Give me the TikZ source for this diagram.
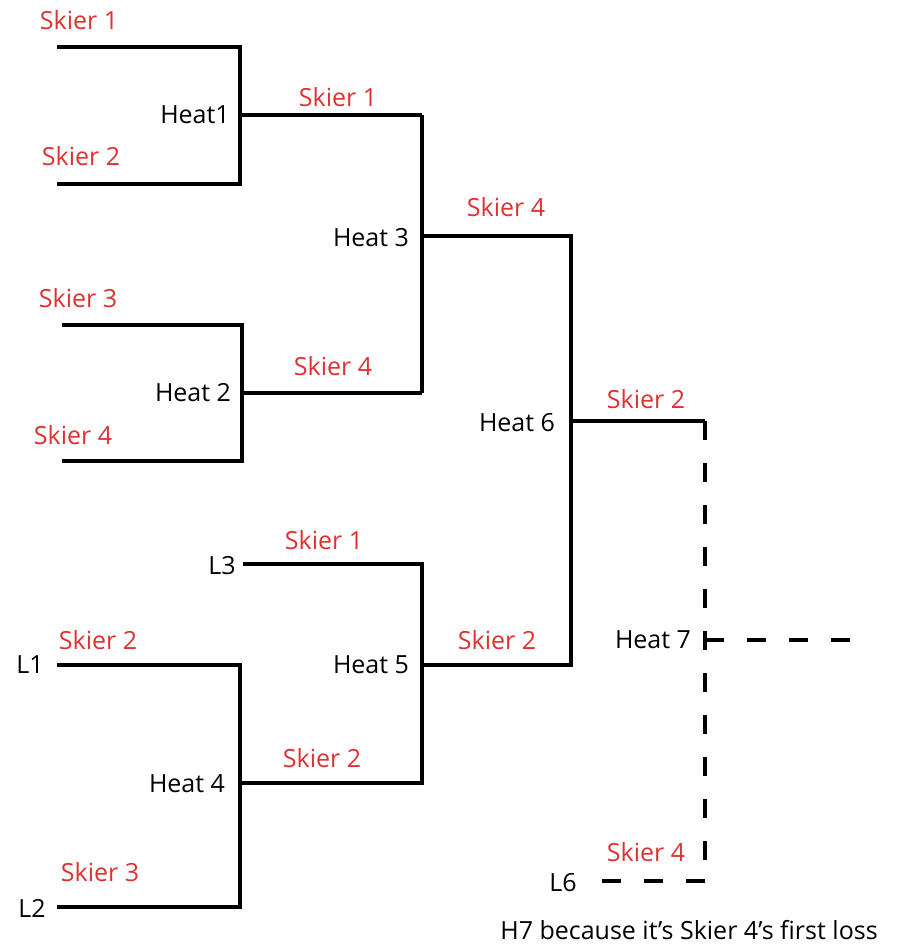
\documentclass[tikz,border=0pt]{standalone}
\usepackage{fontspec}
\setmainfont{Open Sans}
\definecolor{skred}{RGB}{222,50,50}
\begin{document}
\begin{tikzpicture}[x=1pt,y=-1pt,
  wire/.style={line width=4.5pt},
  dwire/.style={line width=4.5pt,dash pattern=on 19pt off 23pt},
  sk/.style={text=skred,font=\fontsize{25}{28}\selectfont,inner sep=0pt},
  ht/.style={text=black,font=\fontsize{25}{28}\selectfont,inner sep=0pt}]
\useasboundingbox (0,0) rectangle (901,945);
% coordinates
\coordinate (a1) at (57,47);
\coordinate (a2) at (240,47);
\coordinate (b1) at (57,184);
\coordinate (b2) at (240,184);
\coordinate (h1) at (240,115);
\coordinate (h1o) at (422,115);
\coordinate (c1) at (62,325);
\coordinate (c2) at (242,325);
\coordinate (d1) at (62,461);
\coordinate (d2) at (242,461);
\coordinate (h2) at (242,393);
\coordinate (h2o) at (422,393);
\coordinate (h3) at (422,236);
\coordinate (h3o) at (571,236);
\coordinate (h6) at (571,421);
\coordinate (h6o) at (705,421);
\coordinate (e1) at (243,564);
\coordinate (e2) at (422,564);
\coordinate (h5) at (422,665);
\coordinate (h5o) at (571,665);
\coordinate (f1) at (57,665);
\coordinate (f2) at (240,665);
\coordinate (g1) at (57,907);
\coordinate (g2) at (240,907);
\coordinate (h4) at (240,783);
\coordinate (h4o) at (422,783);
\coordinate (h7) at (705,640);
\coordinate (h7o) at (850,640);
\coordinate (l6) at (595,881);
\coordinate (l6b) at (705,881);
% solid bracket lines
\draw[wire] (a1) -- (a2) -- (b2) -- (b1);
\draw[wire] (h1) -- (h1o);
\draw[wire] (c1) -- (c2) -- (d2) -- (d1);
\draw[wire] (h2) -- (h2o);
\draw[wire] (h1o) -- (h2o);
\draw[wire] (h3) -- (h3o) -- (h5o) -- (h5);
\draw[wire] (e1) -- (e2) -- (h4o) -- (h4);
\draw[wire] (f1) -- (f2) -- (g2) -- (g1);
\draw[wire] (h6) -- (h6o);
% dashed lines
\draw[dwire] (h6o) -- (l6b);
\draw[dwire] (h7) -- (h7o);
\draw[dwire] (l6b) -- (l6);
% labels
\node[sk] (s1) at (79,20) {Skier 1};
\node[sk] (s2) at (81,156) {Skier 2};
\node[ht] (th1) at (195,115) {Heat1};
\node[sk] (s3) at (338,97) {Skier 1};
\node[sk] (s4) at (506,207) {Skier 4};
\node[ht] (th3) at (371,238) {Heat 3};
\node[sk] (s5) at (78,298) {Skier 3};
\node[sk] (s6) at (333,366) {Skier 4};
\node[ht] (th2) at (193,393) {Heat 2};
\node[sk] (s7) at (73,435) {Skier 4};
\node[sk] (s8) at (646,399) {Skier 2};
\node[ht] (th6) at (517,423) {Heat 6};
\node[sk] (s9) at (324,540) {Skier 1};
\node[ht] (tl3) at (222,566) {L3};
\node[sk] (s10) at (98,640) {Skier 2};
\node[ht] (tl1) at (30,665) {L1};
\node[sk] (s11) at (497,640) {Skier 2};
\node[ht] (th5) at (371,665) {Heat 5};
\node[ht] (th7) at (653,640) {Heat 7};
\node[sk] (s12) at (322,758) {Skier 2};
\node[ht] (th4) at (187,784) {Heat 4};
\node[sk] (s13) at (100,872) {Skier 3};
\node[ht] (tl2) at (32,908) {L2};
\node[sk] (s14) at (646,852) {Skier 4};
\node[ht] (tl6) at (563,883) {L6};
\node[ht] (note) at (689,930) {H7 because it’s Skier 4’s first loss};
\end{tikzpicture}
\end{document}
